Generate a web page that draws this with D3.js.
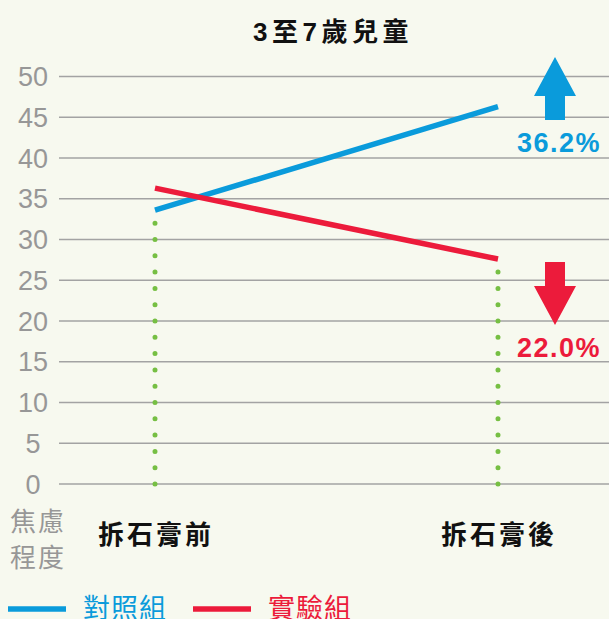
<!DOCTYPE html>
<html>
<head>
<meta charset="utf-8">
<script src="https://cdn.jsdelivr.net/npm/d3@7"></script>
<style>
  html, body { margin: 0; padding: 0; background: #f7f9ef; }
  svg { display: block; font-family: "Liberation Sans", "Noto Sans CJK TC", sans-serif; }
</style>
</head>
<body>
<div id="stage"></div>
<script>
const categories = ["拆石膏前", "拆石膏後"];
const controlValues = [33.6, 46.3];     // 對照組
const experimentValues = [36.3, 27.6];  // 實驗組
const yTicks = [0, 5, 10, 15, 20, 25, 30, 35, 40, 45, 50];
const seriesNames = ["對照組", "實驗組"];
const changeLabels = ["36.2%", "22.0%"];
const title = "3至7歲兒童";

const BLUE = "#0a9bdb";
const RED = "#ec1b3b";
const GREEN = "#76bf43";
const GRAY = "#979797";

const width = 609, height = 619;

const svg = d3.select("#stage").append("svg")
  .attr("width", width)
  .attr("height", height);

svg.append("rect").attr("width", width).attr("height", height).attr("fill", "#f7f9ef");

const x = d3.scalePoint().domain(categories).range([155, 498]);
const y = d3.scaleLinear().domain([0, 50]).range([484, 76.5]);

// grid lines
svg.append("g")
  .selectAll("line")
  .data(yTicks)
  .join("line")
  .attr("x1", 59).attr("x2", width)
  .attr("y1", d => y(d)).attr("y2", d => y(d))
  .attr("stroke", "#a3a3a3")
  .attr("stroke-width", 1.6);

// y tick labels
svg.append("g")
  .selectAll("text")
  .data(yTicks)
  .join("text")
  .attr("x", 33)
  .attr("y", d => y(d))
  .attr("dy", "0.36em")
  .attr("text-anchor", "middle")
  .attr("font-size", 27)
  .attr("fill", GRAY)
  .text(d => d);

// y axis title
svg.append("g")
  .selectAll("text")
  .data(["焦慮", "程度"])
  .join("text")
  .attr("x", 38)
  .attr("y", (d, i) => 531 + i * 36)
  .attr("text-anchor", "middle")
  .attr("font-size", 26)
  .attr("letter-spacing", 2)
  .attr("fill", GRAY)
  .text(d => d);

// dotted drop lines
const tops = categories.map((c, i) => i === 0 ? controlValues[i] : experimentValues[i]);
svg.append("g")
  .selectAll("line")
  .data(categories)
  .join("line")
  .attr("x1", d => x(d)).attr("x2", d => x(d))
  .attr("y1", y(0))
  .attr("y2", (d, i) => y(tops[i]) + 8)
  .attr("stroke", GREEN)
  .attr("stroke-width", 5)
  .attr("stroke-linecap", "round")
  .attr("stroke-dasharray", "0," + (y(0) - y(2)));

// series lines
const line = d3.line().x(d => x(d.c)).y(d => y(d.v));
const series = [
  { name: seriesNames[0], color: BLUE, values: controlValues },
  { name: seriesNames[1], color: RED, values: experimentValues }
];
svg.append("g")
  .selectAll("path")
  .data(series)
  .join("path")
  .attr("d", s => line(s.values.map((v, i) => ({ c: categories[i], v }))))
  .attr("fill", "none")
  .attr("stroke", s => s.color)
  .attr("stroke-width", 5.5);

// title
svg.append("text")
  .attr("x", 333)
  .attr("y", 41)
  .attr("text-anchor", "middle")
  .attr("font-size", 26)
  .attr("font-weight", "bold")
  .attr("letter-spacing", 4.5)
  .attr("fill", "#111")
  .text(title);

// x labels
svg.append("g")
  .selectAll("text")
  .data(categories)
  .join("text")
  .attr("x", d => x(d) + 1)
  .attr("y", 544)
  .attr("text-anchor", "middle")
  .attr("font-size", 26)
  .attr("font-weight", "bold")
  .attr("letter-spacing", 3)
  .attr("fill", "#111")
  .text(d => d);

// arrows
const arrowUp = "M0,0 L21,39 L10,39 L10,63 L-10,63 L-10,39 L-21,39 Z";
svg.append("path")
  .attr("d", arrowUp)
  .attr("transform", "translate(555,57)")
  .attr("fill", BLUE);
svg.append("path")
  .attr("d", arrowUp)
  .attr("transform", "translate(555,325) scale(1,-1)")
  .attr("fill", RED);

// change labels
svg.append("g")
  .selectAll("text")
  .data(changeLabels)
  .join("text")
  .attr("x", 559)
  .attr("y", (d, i) => i === 0 ? 152 : 357)
  .attr("text-anchor", "middle")
  .attr("font-size", 27)
  .attr("font-weight", "bold")
  .attr("letter-spacing", 1.5)
  .attr("fill", (d, i) => i === 0 ? BLUE : RED)
  .text(d => d);

// legend
const legend = svg.append("g")
  .selectAll("g")
  .data(series)
  .join("g")
  .attr("transform", (d, i) => `translate(${8 + i * 185},609)`);
legend.append("line")
  .attr("x1", 0).attr("x2", 58)
  .attr("stroke", d => d.color)
  .attr("stroke-width", 5.5);
legend.append("text")
  .attr("x", 75)
  .attr("y", 9)
  .attr("font-size", 27)
  .attr("letter-spacing", 1)
  .attr("fill", d => d.color)
  .text(d => d.name);
</script>
</body>
</html>
